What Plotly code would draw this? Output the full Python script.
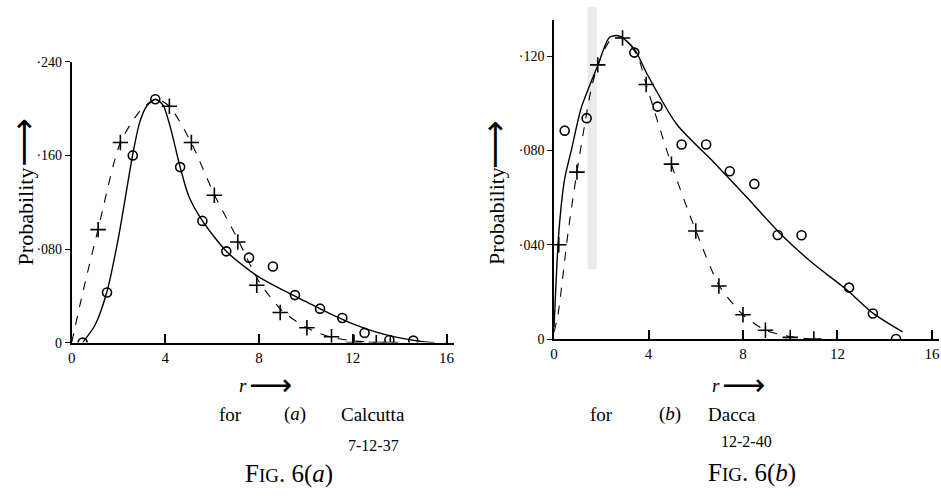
import plotly.graph_objects as go

# ---------------- data: Fig 6(a) Calcutta ----------------
a_circ_x = [0.47, 1.51, 2.61, 3.57, 4.63, 5.58, 6.6, 7.57, 8.59, 9.53, 10.6, 11.55, 12.5, 13.56, 14.58]
a_circ_y = [0.0, 0.0428, 0.160, 0.208, 0.150, 0.104, 0.078, 0.0726, 0.065, 0.0406, 0.029, 0.021, 0.0083, 0.0022, 0.0017]
a_cross_x = [1.13, 2.08, 4.17, 5.11, 6.09, 7.09, 7.9, 8.9, 10.04, 11.09, 12.05, 13.0, 13.6]
a_cross_y = [0.0966, 0.171, 0.202, 0.171, 0.126, 0.086, 0.049, 0.0257, 0.0127, 0.005, 0.0, 0.0, 0.0]
a_solid_x = [0.47, 1.0, 1.5, 2.0, 2.6, 2.9, 3.2, 3.57, 3.9, 4.2, 4.63, 5.0, 5.58, 6.6, 7.5, 8.0, 9.0, 10.0, 11.0, 12.0, 13.0, 14.0, 15.0, 15.5]
a_solid_y = [0.0, 0.015, 0.043, 0.09, 0.160, 0.188, 0.202, 0.208, 0.203, 0.185, 0.150, 0.125, 0.104, 0.078, 0.063, 0.056, 0.045, 0.035, 0.025, 0.016, 0.009, 0.004, 0.0008, 0.0]
a_dash_x = [0.0, 0.5, 1.13, 2.08, 3.0, 3.6, 4.17, 5.1, 6.1, 7.1, 8.0, 9.0, 10.0, 11.0, 12.0, 13.0]
a_dash_y = [0.0, 0.045, 0.097, 0.171, 0.200, 0.208, 0.202, 0.171, 0.126, 0.088, 0.052, 0.027, 0.013, 0.005, 0.0015, 0.0]
a_yticks = [0, 0.08, 0.16, 0.24]
a_yticktext = ["0", "·080", "·160", "·240"]

# ---------------- data: Fig 6(b) Dacca ----------------
b_circ_x = [0.45, 1.38, 3.4, 4.38, 5.4, 6.44, 7.44, 8.48, 9.47, 10.48, 12.49, 13.5, 14.48]
b_circ_y = [0.0884, 0.0937, 0.1215, 0.0986, 0.0825, 0.0825, 0.0712, 0.0658, 0.0441, 0.044, 0.0218, 0.0108, 0.0]
b_cross_x = [0.2, 0.97, 1.85, 2.9, 3.9, 4.97, 6.0, 6.98, 8.0, 8.95, 10.0, 11.0]
b_cross_y = [0.040, 0.0708, 0.1163, 0.1277, 0.108, 0.0742, 0.0458, 0.0225, 0.0103, 0.0037, 0.0007, 0.0]
b_solid_x = [0.0, 0.2, 0.45, 0.73, 1.15, 1.85, 2.35, 2.76, 3.4, 3.96, 5.2, 6.76, 8.17, 9.57, 10.97, 12.38, 13.5, 14.76]
b_solid_y = [0.005, 0.045, 0.068, 0.080, 0.098, 0.116, 0.128, 0.1286, 0.123, 0.112, 0.091, 0.075, 0.060, 0.0448, 0.032, 0.021, 0.011, 0.003]
b_dash_x = [0.0, 0.17, 0.59, 0.97, 1.57, 1.85, 2.4, 2.9, 3.54, 3.9, 4.97, 6.0, 7.0, 8.0, 8.95, 10.0, 10.8]
b_dash_y = [0.003, 0.0105, 0.045, 0.071, 0.106, 0.116, 0.127, 0.128, 0.120, 0.108, 0.074, 0.046, 0.0225, 0.0103, 0.0037, 0.001, 0.0]
b_yticks = [0, 0.04, 0.08, 0.12]
b_yticktext = ["0", "·040", "·080", "·120"]

x_ticks = [0, 4, 8, 12, 16]
x_ticktext = ["0", "4", "8", "12", "16"]

SERIF = "Liberation Serif"
W, H = 941, 499

fig = go.Figure()

def add_panel(xa, ya, sx, sy, dx, dy, cx, cy, ox, oy):
    fig.add_trace(go.Scatter(x=sx, y=sy, mode="lines", line=dict(color="black", width=1.4, shape="spline", smoothing=0.7),
                             xaxis=xa, yaxis=ya, showlegend=False, hoverinfo="skip"))
    fig.add_trace(go.Scatter(x=dx, y=dy, mode="lines", line=dict(color="black", width=1.1, dash="dash", shape="spline", smoothing=0.7),
                             xaxis=xa, yaxis=ya, showlegend=False, hoverinfo="skip"))
    fig.add_trace(go.Scatter(x=cx, y=cy, mode="markers",
                             marker=dict(symbol="cross-thin-open", size=11, color="black", line=dict(color="black", width=1.6)),
                             xaxis=xa, yaxis=ya, showlegend=False))
    fig.add_trace(go.Scatter(x=ox, y=oy, mode="markers",
                             marker=dict(symbol="circle-open", size=9, color="black", line=dict(color="black", width=1.6)),
                             xaxis=xa, yaxis=ya, showlegend=False))

add_panel("x", "y", a_solid_x, a_solid_y, a_dash_x, a_dash_y, a_cross_x, a_cross_y, a_circ_x, a_circ_y)
add_panel("x2", "y2", b_solid_x, b_solid_y, b_dash_x, b_dash_y, b_cross_x, b_cross_y, b_circ_x, b_circ_y)

# faint grey scan band in panel (b)
fig.add_shape(type="rect", xref="x2", yref="paper", x0=1.42, x1=1.8, y0=1 - 270 / H, y1=1.0,
              fillcolor="rgba(160,160,160,0.22)", line=dict(width=0), layer="below")

common_x = dict(range=[0, 16.3], tickvals=x_ticks, ticktext=x_ticktext, showgrid=False, zeroline=False,
                showline=True, linecolor="black", linewidth=2, ticks="inside", ticklen=9, tickwidth=1.5,
                tickcolor="black", tickfont=dict(family=SERIF, size=15, color="black"))
common_y = dict(showgrid=False, zeroline=False, showline=True, linecolor="black", linewidth=1.5,
                ticks="outside", ticklen=5, tickwidth=1, tickcolor="black",
                tickfont=dict(family=SERIF, size=14, color="black"))

fig.update_layout(
    width=W, height=H, margin=dict(l=0, r=0, t=0, b=0),
    paper_bgcolor="white", plot_bgcolor="white",
    xaxis=dict(domain=[68 / W, 452 / W], anchor="y", **common_x),
    yaxis=dict(domain=[1 - 346 / H, 1 - 56.5 / H], range=[0, 0.24], anchor="x",
               tickvals=a_yticks, ticktext=a_yticktext, **common_y),
    xaxis2=dict(domain=[553 / W, 940 / W], anchor="y2", **common_x),
    yaxis2=dict(domain=[1 - 342.3 / H, 1 - 13 / H], range=[0, 0.1355], anchor="x2",
                tickvals=b_yticks, ticktext=b_yticktext, **common_y),
)

def ann(text, x, y, size, angle=0, family=SERIF):
    fig.add_annotation(text=text, x=x / W, y=1 - y / H, xref="paper", yref="paper", showarrow=False,
                       textangle=angle, xanchor="center", yanchor="middle",
                       font=dict(family=family, size=size, color="black"))

ARR = "⟶"
# y-axis titles with long arrows
ann("Probability", 22, 216, 22, -90)
ann(ARR, 19, 139, 34, -90, "DejaVu Sans")
ann("Probability", 495, 215, 22, -90)
ann(ARR, 492, 142, 34, -90, "DejaVu Sans")
# x-axis titles
ann("<i>r</i>", 240, 390, 19)
ann(ARR, 268, 389, 30, 0, "DejaVu Sans")
ann("<i>r</i>", 716, 390, 19)
ann(ARR, 743, 389, 30, 0, "DejaVu Sans")
# captions
ann("for", 228, 420, 19)
ann("(<i>a</i>)", 293, 420, 19)
ann("Calcutta", 371, 420, 19)
ann("7-12-37", 371, 452, 16)
ann("F<span style='font-size:19px'>IG</span>. 6(<i>a</i>)", 287, 481, 25)
ann("for", 601, 420, 19)
ann("(<i>b</i>)", 670, 420, 19)
ann("Dacca", 732, 420, 19)
ann("12-2-40", 746, 448, 16)
ann("F<span style='font-size:19px'>IG</span>. 6(<i>b</i>)", 752, 480, 25)

fig.write_html("out.html")
